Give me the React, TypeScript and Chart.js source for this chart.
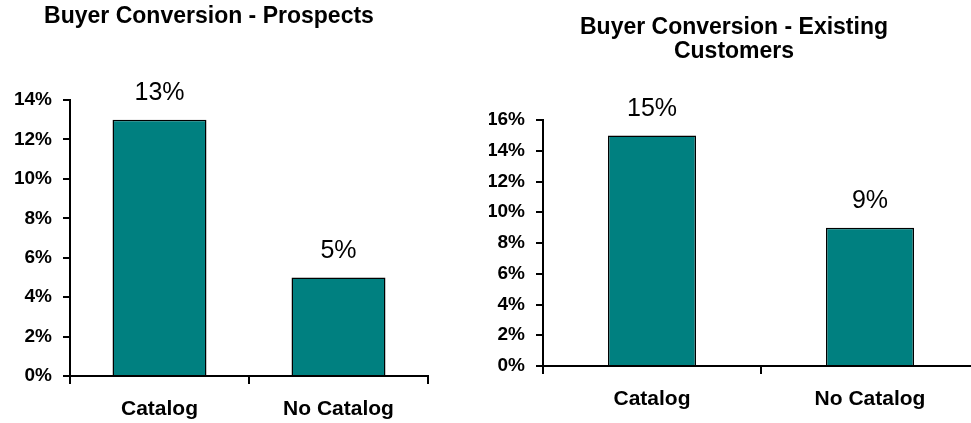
import React, { useEffect, useRef } from 'react';
import { Chart, registerables } from 'chart.js';

Chart.register(...registerables);

const categories = ['Catalog', 'No Catalog'];
const prospectsValues = [13, 5];
const existingValues = [15, 9];
const prospectsTitle = ['Buyer Conversion - Prospects'];
const existingTitle = ['Buyer Conversion - Existing', 'Customers'];
const prospectsMax = 14;
const existingMax = 16;
const tickStep = 2;

const FONT = '"Liberation Sans", Arial, Helvetica, sans-serif';
const TEAL = '#008080';

const valueLabels = {
  id: 'valueLabels',
  afterDatasetsDraw(chart: any) {
    const ctx = chart.ctx;
    const meta = chart.getDatasetMeta(0);
    const data = chart.data.datasets[0].data;
    ctx.save();
    ctx.font = `25px ${FONT}`;
    ctx.fillStyle = '#000';
    ctx.textAlign = 'center';
    ctx.textBaseline = 'alphabetic';
    meta.data.forEach((bar: any, i: number) => {
      ctx.fillText(`${data[i]}%`, bar.x, bar.y - 19.5);
    });
    ctx.restore();
  },
};

type PanelProps = {
  left: number;
  width: number;
  canvasWidth: number;
  title: string[];
  values: number[];
  max: number;
  padLeft: number;
  padRight: number;
  yAxisWidth: number;
  xAxisHeight: number;
  titlePadTop: number;
  titlePadBottom: number;
  barPct: number;
};

function Panel(p: PanelProps) {
  const ref = useRef<HTMLCanvasElement>(null);
  useEffect(() => {
    if (!ref.current) return;
    const chart = new Chart(ref.current, {
      type: 'bar',
      data: {
        labels: categories,
        datasets: [
          {
            data: p.values,
            backgroundColor: TEAL,
            borderColor: '#000',
            borderWidth: 1.5,
            categoryPercentage: 1,
            barPercentage: p.barPct,
          },
        ],
      },
      options: {
        animation: false,
        responsive: true,
        maintainAspectRatio: false,
        layout: { padding: { left: p.padLeft, right: p.padRight, top: 0, bottom: 0 } },
        plugins: {
          legend: { display: false },
          tooltip: { enabled: false },
          title: {
            display: true,
            text: p.title,
            color: '#000',
            font: { family: FONT, size: 23, weight: 'bold', lineHeight: 24 / 23 },
            padding: { top: p.titlePadTop, bottom: p.titlePadBottom },
          },
        },
        scales: {
          x: {
            z: 1,
            offset: true,
            grid: {
              display: true,
              offset: true,
              drawOnChartArea: false,
              drawTicks: true,
              tickLength: 8,
              color: '#000',
              lineWidth: 2,
            },
            border: { display: true, color: '#000', width: 2 },
            ticks: {
              color: '#000',
              padding: 13,
              font: { family: FONT, size: 21, weight: 'bold' },
            },
            afterFit(scale: any) {
              scale.height = p.xAxisHeight;
            },
          },
          y: {
            z: 1,
            min: 0,
            max: p.max,
            grid: {
              display: true,
              drawOnChartArea: false,
              drawTicks: true,
              tickLength: 7,
              color: '#000',
              lineWidth: 2,
            },
            border: { display: true, color: '#000', width: 2 },
            ticks: {
              stepSize: tickStep,
              color: '#000',
              padding: 11,
              font: { family: FONT, size: 19, weight: 'bold' },
              callback: (v: any) => `${v}%`,
            },
            afterFit(scale: any) {
              scale.width = p.yAxisWidth;
            },
          },
        },
      },
      plugins: [valueLabels],
    } as any);
    return () => chart.destroy();
  }, []);
  return (
    <div style={{ position: 'absolute', left: p.left, top: 0, width: p.width, height: 423, overflow: 'hidden' }}>
      <div style={{ position: 'relative', width: p.canvasWidth, height: 423 }}>
        <canvas ref={ref} />
      </div>
    </div>
  );
}

export default function App() {
  return (
    <div style={{ position: 'fixed', left: 0, top: 0, width: 971, height: 423, overflow: 'hidden', background: '#fff' }}>
      <Panel
        left={-10}
        width={460}
        canvasWidth={450}
        title={prospectsTitle}
        values={prospectsValues}
        max={prospectsMax}
        padLeft={0}
        padRight={12}
        yAxisWidth={80}
        xAxisHeight={47}
        titlePadTop={4.5}
        titlePadBottom={71.5}
        barPct={0.525}
      />
      <Panel
        left={470}
        width={501}
        canvasWidth={509}
        title={existingTitle}
        values={existingValues}
        max={existingMax}
        padLeft={19}
        padRight={0}
        yAxisWidth={54}
        xAxisHeight={57}
        titlePadTop={16}
        titlePadBottom={56}
        barPct={0.404}
      />
    </div>
  );
}
